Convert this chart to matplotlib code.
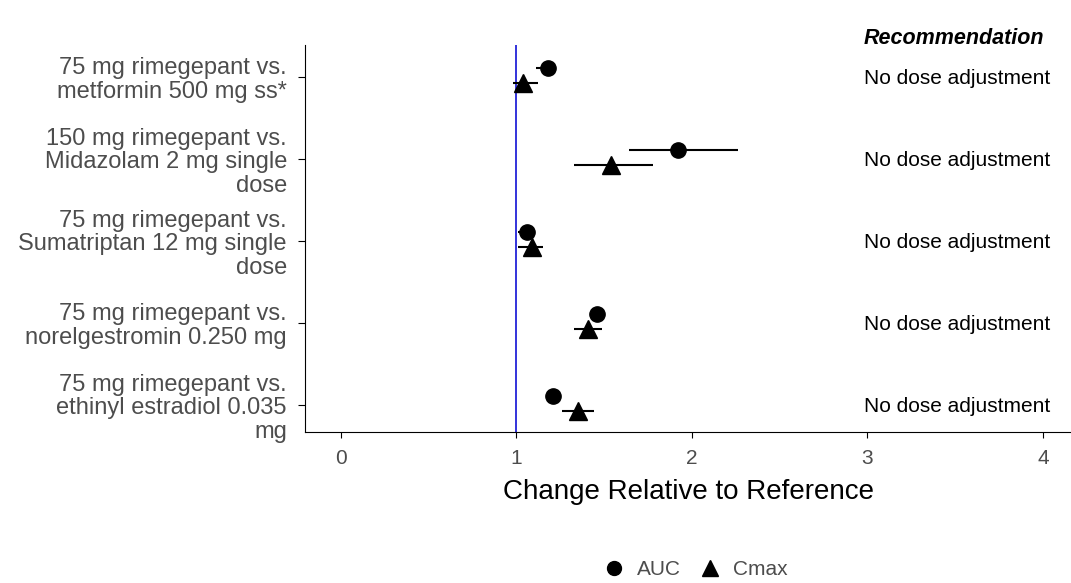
import matplotlib
matplotlib.use('Agg')
import matplotlib.pyplot as plt
from matplotlib.lines import Line2D

plt.rcParams['font.family'] = ['Liberation Sans', 'DejaVu Sans']

labels = [
    '75 mg rimegepant vs.\nmetformin 500 mg ss*',
    '150 mg rimegepant vs.\nMidazolam 2 mg single\ndose',
    '75 mg rimegepant vs.\nSumatriptan 12 mg single\ndose',
    '75 mg rimegepant vs.\nnorelgestromin 0.250 mg',
    '75 mg rimegepant vs.\nethinyl estradiol 0.035\nmg',
]
recommend = ['No dose adjustment'] * 5

auc = [1.18, 1.92, 1.06, 1.46, 1.21]
auc_lo = [1.11, 1.64, 1.01, 1.42, 1.17]
auc_hi = [1.22, 2.26, 1.10, 1.50, 1.25]

cmax = [1.04, 1.54, 1.09, 1.41, 1.35]
cmax_lo = [0.98, 1.33, 1.01, 1.33, 1.26]
cmax_hi = [1.12, 1.78, 1.15, 1.49, 1.44]

fig = plt.figure(figsize=(10.71, 5.83), dpi=100)
ax = fig.add_axes([0.2848, 0.259, 0.7152, 0.6638])

ypos = list(range(len(labels)))
y_auc = [y - 0.11 for y in ypos]
y_cmax = [y + 0.07 for y in ypos]

ax.axvline(1, color='#2323d8', lw=1.3, zorder=1)

ax.errorbar(auc, y_auc, xerr=[[a - l for a, l in zip(auc, auc_lo)], [h - a for a, h in zip(auc, auc_hi)]],
            fmt='o', color='black', ms=11, elinewidth=1.5, capsize=0, zorder=3)
ax.errorbar(cmax, y_cmax, xerr=[[c - l for c, l in zip(cmax, cmax_lo)], [h - c for c, h in zip(cmax, cmax_hi)]],
            fmt='^', color='black', ms=13, elinewidth=1.5, capsize=0, zorder=3)

for y, r in zip(ypos, recommend):
    ax.text(2.98, y + 0.02, r, ha='left', va='center', fontsize=15, color='black')
ax.text(2.98, -0.47, 'Recommendation', ha='left', va='center', fontsize=15.5,
        fontweight='bold', fontstyle='italic', clip_on=False)

ax.set_xlim(-0.205, 4.16)
ax.set_ylim(4.33, -0.39)
ax.set_xticks([0, 1, 2, 3, 4])
ax.set_yticks(ypos)
ax.set_yticklabels(labels, fontsize=17, color='#4d4d4d', linespacing=1.1)
ax.tick_params(axis='x', labelsize=15, labelcolor='#4d4d4d', length=4, pad=8)
ax.tick_params(axis='y', length=5, pad=8)
ax.set_xlabel('Change Relative to Reference', fontsize=20, labelpad=8)

ax.spines['top'].set_visible(False)
ax.spines['right'].set_visible(False)

handles = [Line2D([], [], marker='o', ls='', color='black', ms=10),
           Line2D([], [], marker='^', ls='', color='black', ms=12)]
fig.legend(handles, ['AUC', 'Cmax'], loc='lower center', bbox_to_anchor=(0.645, -0.025),
           ncol=2, frameon=False, fontsize=15, handletextpad=0.1, columnspacing=0.4,
           labelcolor='#4d4d4d')

fig.savefig('out.png', dpi=100)
